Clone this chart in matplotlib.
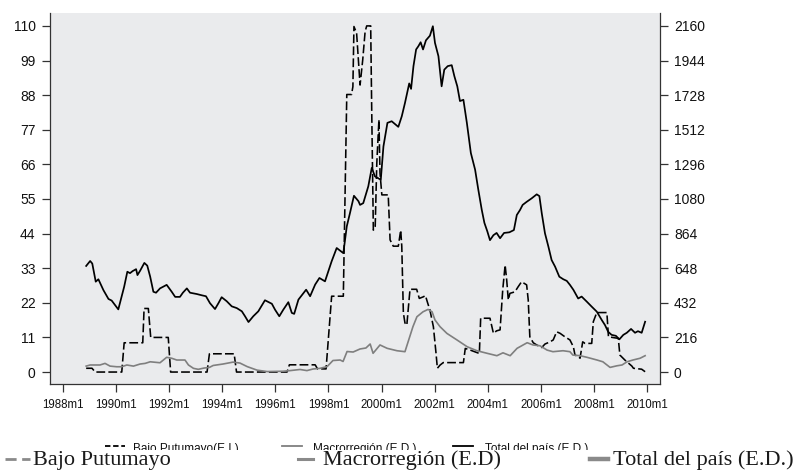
import matplotlib
matplotlib.use("Agg")
import matplotlib.pyplot as plt
from matplotlib.lines import Line2D
from matplotlib.patches import Rectangle

# --- data, dates as decimal years ---
t_total = [1988.88, 1989.03, 1989.11, 1989.24, 1989.34, 1989.53, 1989.72, 1989.84, 1990.09, 1990.31,
           1990.43, 1990.53, 1990.63, 1990.76, 1990.81, 1990.91, 1991.07, 1991.18, 1991.29, 1991.41,
           1991.51, 1991.66, 1991.91, 1992.10, 1992.23, 1992.41, 1992.52, 1992.67, 1992.79, 1993.04,
           1993.23, 1993.39, 1993.54, 1993.73, 1993.86, 1993.98, 1994.17, 1994.36, 1994.55, 1994.74,
           1994.86, 1994.99, 1995.17, 1995.36, 1995.61, 1995.87, 1995.99, 1996.15, 1996.30, 1996.49,
           1996.62, 1996.71, 1996.87, 1997.16, 1997.31, 1997.50, 1997.66, 1997.87, 1998.12, 1998.31,
           1998.56, 1998.69, 1998.81, 1998.96, 1999.13, 1999.19, 1999.31, 1999.50, 1999.63, 1999.75,
           1999.97, 2000.07, 2000.22, 2000.38, 2000.63, 2000.76, 2000.88, 2001.04, 2001.11, 2001.20,
           2001.30, 2001.38, 2001.47, 2001.56, 2001.67, 2001.82, 2001.93, 2002.01, 2002.14, 2002.26,
           2002.36, 2002.49, 2002.64, 2002.74, 2002.85, 2002.95, 2003.08, 2003.21, 2003.36, 2003.52,
           2003.64, 2003.77, 2003.87, 2003.98, 2004.08, 2004.21, 2004.33, 2004.46, 2004.61, 2004.81,
           2004.98, 2005.09, 2005.21, 2005.31, 2005.46, 2005.65, 2005.84, 2005.94, 2006.03, 2006.15,
           2006.28, 2006.40, 2006.53, 2006.69, 2006.84, 2006.97, 2007.09, 2007.22, 2007.40, 2007.53,
           2007.72, 2007.91, 2008.10, 2008.29, 2008.41, 2008.53, 2008.66, 2008.82, 2008.95, 2009.10,
           2009.23, 2009.39, 2009.54, 2009.65, 2009.79, 2009.92]
total = [662, 693, 677, 564, 579, 511, 456, 446, 391, 532,
         626, 617, 630, 642, 605, 632, 681, 664, 595, 501,
         495, 522, 544, 501, 469, 469, 495, 522, 495, 487,
         479, 473, 430, 393, 430, 467, 442, 410, 399, 379,
         348, 312, 348, 379, 448, 426, 389, 348, 389, 436,
         369, 363, 452, 514, 473, 546, 587, 566, 691, 774,
         742, 909, 992, 1100, 1066, 1043, 1054, 1159, 1274, 1221,
         1200, 1408, 1555, 1565, 1530, 1596, 1679, 1801, 1767, 1909,
         2013, 2032, 2058, 2013, 2070, 2099, 2158, 2054, 1971, 1783,
         1887, 1909, 1915, 1846, 1783, 1691, 1699, 1555, 1367, 1263,
         1139, 1013, 931, 878, 823, 854, 868, 835, 868, 872,
         886, 980, 1011, 1043, 1062, 1084, 1109, 1098, 990, 866,
         782, 699, 658, 595, 579, 569, 544, 513, 459, 471,
         440, 408, 377, 324, 293, 251, 232, 226, 204, 232,
         245, 269, 245, 255, 245, 314]

t_macro = [1988.88, 1989.03, 1989.40, 1989.59, 1989.78, 1990.03, 1990.22, 1990.41, 1990.66, 1990.91,
           1991.10, 1991.29, 1991.66, 1991.91, 1992.10, 1992.29, 1992.60, 1992.73, 1992.92, 1993.10,
           1993.32, 1993.52, 1993.66, 1994.03, 1994.41, 1994.67, 1994.94, 1995.31, 1995.69, 1996.29,
           1996.56, 1996.93, 1997.19, 1997.42, 1997.68, 1997.95, 1998.17, 1998.44, 1998.55, 1998.70,
           1998.93, 1999.19, 1999.41, 1999.57, 1999.68, 1999.94, 2000.21, 2000.58, 2000.88, 2001.18,
           2001.33, 2001.56, 2001.75, 2001.90, 2002.01, 2002.20, 2002.46, 2002.84, 2003.22, 2003.59,
           2003.97, 2004.34, 2004.57, 2004.84, 2005.10, 2005.48, 2005.70, 2005.96, 2006.23, 2006.45,
           2006.83, 2007.09, 2007.20, 2007.47, 2007.73, 2008.11, 2008.33, 2008.60, 2008.86, 2009.05,
           2009.24, 2009.46, 2009.73, 2009.92]
macro = [37, 44, 44, 54, 37, 33, 33, 44, 37, 50,
         54, 64, 58, 92, 86, 75, 75, 44, 23, 17,
         25, 29, 41, 50, 62, 56, 34, 12, 3, 5,
         9, 16, 9, 19, 23, 34, 72, 75, 66, 128,
         125, 144, 150, 175, 117, 169, 148, 133, 127, 283,
         345, 376, 391, 376, 325, 283, 241, 200, 158, 133,
         117, 102, 120, 102, 148, 183, 169, 164, 137, 127,
         133, 127, 106, 102, 92, 75, 64, 29, 39, 44,
         64, 75, 86, 102]

t_bajo = [1988.88, 1989.10, 1989.22, 1990.22, 1990.31, 1991.01, 1991.06, 1991.22, 1991.31, 1991.97,
          1992.06, 1993.43, 1993.52, 1994.45, 1994.54, 1996.44, 1996.53, 1997.50, 1997.59, 1997.91,
          1998.12, 1998.56, 1998.69, 1998.87, 1998.92, 1998.96, 1999.06, 1999.19, 1999.29, 1999.38,
          1999.44, 1999.59, 1999.63, 1999.69, 1999.76, 1999.82, 1999.90, 1999.94, 2000.01, 2000.25,
          2000.32, 2000.44, 2000.63, 2000.72, 2000.76, 2000.82, 2000.88, 2000.95, 2001.07, 2001.32,
          2001.42, 2001.57, 2001.65, 2001.74, 2001.82, 2001.95, 2002.05, 2002.10, 2002.20, 2002.32,
          2003.08, 2003.15, 2003.33, 2003.68, 2003.73, 2004.08, 2004.21, 2004.33, 2004.46, 2004.56,
          2004.65, 2004.71, 2004.77, 2004.83, 2005.02, 2005.14, 2005.27, 2005.46, 2005.52, 2005.58,
          2005.71, 2005.84, 2006.03, 2006.15, 2006.34, 2006.46, 2006.59, 2006.72, 2006.90, 2007.09,
          2007.22, 2007.28, 2007.41, 2007.47, 2007.57, 2007.66, 2007.91, 2007.97, 2008.10, 2008.48,
          2008.54, 2008.91, 2008.97, 2009.16, 2009.42, 2009.48, 2009.79, 2009.92]
bajo = [1.2, 1.2, 0, 0, 9.3, 9.3, 20.2, 20.2, 11.0, 11.0,
        0, 0, 5.8, 5.8, 0, 0, 2.3, 2.3, 1.0, 1.0,
        24.1, 24.1, 88.2, 88.2, 90.7, 109.8, 107.7, 91.2, 99.2, 108.2,
        110, 110, 82.3, 45.1, 46.3, 66.4, 80.2, 63.3, 56.3, 56.3,
        42.0, 40.0, 40.0, 45.1, 40.0, 18.8, 15.6, 14.9, 26.3, 26.3,
        23.4, 23.9, 24.3, 21.8, 19.7, 14.4, 5.9, 1.2, 2.2, 3.0,
        3.0, 7.5, 7.0, 5.9, 17.1, 17.1, 12.3, 13.1, 13.4, 26.1,
        34.0, 29.2, 22.9, 25.0, 25.5, 27.1, 28.7, 27.7, 22.9, 11.2,
        9.3, 8.6, 7.8, 8.9, 9.6, 10.2, 12.8, 12.3, 11.2, 10.2,
        8.0, 5.4, 4.9, 4.4, 9.6, 9.1, 9.1, 16.0, 18.9, 18.9,
        11.2, 10.7, 5.4, 3.8, 1.9, 1.2, 0.9, 0.1]

left_ticks = [0, 11, 22, 33, 44, 55, 66, 77, 88, 99, 110]
right_ticks = [0, 216, 432, 648, 864, 1080, 1296, 1512, 1728, 1944, 2160]
year_ticks = list(range(1988, 2011, 2))
year_labels = ["%dm1" % y for y in year_ticks]

legend_small = ["Bajo Putumayo(E.I.)", "Macrorregión (E.D.)", "Total del país (E.D.)"]
legend_big = ["Bajo Putumayo", "Macrorregión (E.D)", "Total del país (E.D.)"]

W, H = 810, 471
sans = ["Liberation Sans", "DejaVu Sans"]
serif = ["Liberation Serif", "DejaVu Serif"]
axcol = "#333333"

fig = plt.figure(figsize=(W / 100, H / 100), dpi=100)
ax = fig.add_axes([49.5 / W, 1 - 384 / H, (660 - 49.5) / W, (384 - 13) / H])
ax.set_facecolor("#eaebed")
ax2 = ax.twinx()

ax.plot(t_bajo, bajo, color="black", lw=1.15, dashes=(5.5, 2.0), zorder=3)
ax2.plot(t_macro, macro, color="#7f7f7f", lw=1.2, zorder=2)
ax2.plot(t_total, total, color="black", lw=1.25, zorder=3)

ymin, ymax = -3.8, 114.1
ax.set_ylim(ymin, ymax)
ax2.set_ylim(ymin * 2160 / 110, ymax * 2160 / 110)
ax.set_xlim(1987.5, 2010.48)

ax.set_yticks(left_ticks)
ax.set_yticklabels([str(v) for v in left_ticks], family=sans, fontsize=10)
ax2.set_yticks(right_ticks)
ax2.set_yticklabels([str(v) for v in right_ticks], family=sans, fontsize=10)
ax.set_xticks(year_ticks)
ax.set_xticklabels(year_labels, family=sans, fontsize=8.3)

for a in (ax, ax2):
    a.spines["top"].set_visible(False)
    for s in a.spines.values():
        s.set_color(axcol)
        s.set_linewidth(0.9)
ax.spines["right"].set_visible(False)
ax2.spines["left"].set_visible(False)
ax2.spines["bottom"].set_visible(False)

ax.tick_params(axis="y", length=6, width=0.9, color=axcol, pad=4, labelcolor="#111111")
ax2.tick_params(axis="y", length=6, width=0.9, color=axcol, pad=4, labelcolor="#111111")
ax.tick_params(axis="x", length=6, width=0.9, color=axcol, pad=5, labelcolor="#111111")


def fx(x):
    return x / W


def fy(y):
    return 1 - y / H


# original (partly hidden) small legend
small_sym = [(105, 125, "black", (3, 1.5)), (282, 302, "#7f7f7f", None), (453, 473, "black", None)]
small_x = [133, 313, 485]
for (x0, x1, c, d), tx, lab in zip(small_sym, small_x, legend_small):
    ln = Line2D([fx(x0), fx(x1)], [fy(446), fy(446)], color=c, lw=1.3, transform=fig.transFigure, zorder=1)
    if d:
        ln.set_dashes(d)
    fig.lines.append(ln)
    fig.text(fx(tx), fy(452), lab, family=sans, fontsize=8.5, va="baseline", ha="left", color="#111111", zorder=1)

fig.patches.append(Rectangle((0, 0), 1, fy(449.5), transform=fig.transFigure, facecolor="white",
                             edgecolor="none", zorder=2))

# overlaid serif legend
big_x = [33, 323, 613]
ly = 459
l1 = Line2D([fx(5), fx(30)], [fy(ly), fy(ly)], color="#8a8a8a", lw=2.0, transform=fig.transFigure, zorder=3)
l1.set_dashes((4, 2))
fig.lines.append(l1)
fig.lines.append(Line2D([fx(298), fx(313)], [fy(ly), fy(ly)], color="#8a8a8a", lw=2.2,
                        transform=fig.transFigure, zorder=3))
fig.lines.append(Line2D([fx(590), fx(608)], [fy(ly), fy(ly)], color="#8a8a8a", lw=3.2,
                        transform=fig.transFigure, zorder=3))
for tx, lab in zip(big_x, legend_big):
    fig.text(fx(tx), fy(465), lab, family=serif, fontsize=16, va="baseline", ha="left", color="#1a1a1a", zorder=3)

fig.savefig("out.png", dpi=100)
